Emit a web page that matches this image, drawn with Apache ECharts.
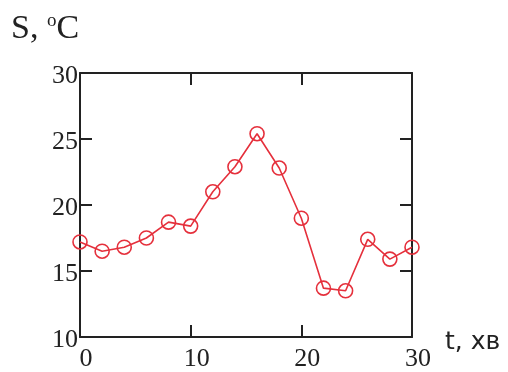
<!DOCTYPE html>
<html>
<head>
<meta charset="utf-8">
<script src="https://cdn.jsdelivr.net/npm/echarts@6/dist/echarts.min.js"></script>
<style>
  html, body { margin: 0; padding: 0; background: #fff; }
  #chart { width: 508px; height: 372px; }
</style>
</head>
<body>
<div id="chart"></div>
<script>
// time, min
var timeData = [0, 2, 4, 6, 8, 10, 12, 14, 16, 18, 20, 22, 24, 26, 28, 30]
// temperature S, degC
var tempData = [17.2, 16.5, 16.8, 17.5, 18.7, 18.4, 21.0, 22.9, 25.4, 22.8, 19.0, 13.7, 13.5, 17.4, 15.9, 16.8]
var xTicks = [0, 10, 20, 30]
var yTicks = [10, 15, 20, 25, 30]

var chart = echarts.init(document.getElementById('chart'))

var serif = '"Liberation Serif", "DejaVu Serif", serif'
var ink = '#222'
var red = '#e5303c'

var points = timeData.map(function (t, i) { return [t, tempData[i]] })

var baseX = {
  type: 'value',
  min: xTicks[0],
  max: xTicks[xTicks.length - 1],
  interval: 10,
  splitLine: { show: false },
  axisLine: { show: true, onZero: false, lineStyle: { color: ink, width: 2 } },
  axisTick: { show: true, inside: true, length: 12, lineStyle: { color: ink, width: 2 } }
}
var baseY = {
  type: 'value',
  min: yTicks[0],
  max: yTicks[yTicks.length - 1],
  interval: 5,
  splitLine: { show: false },
  axisLine: { show: true, onZero: false, lineStyle: { color: ink, width: 2 } },
  axisTick: { show: true, inside: true, length: 12, lineStyle: { color: ink, width: 2 } }
}

chart.setOption({
  animation: false,
  backgroundColor: '#fff',
  grid: { left: 80, right: 96, top: 73, bottom: 34 },
  graphic: [
    {
      type: 'text',
      left: 11,
      top: 12,
      style: {
        text: '{a|S, }{b|o}{a|C}',
        rich: {
          a: { fontFamily: serif, fontSize: 34, fill: ink },
          b: { fontFamily: serif, fontSize: 19, fill: ink, verticalAlign: 'top', padding: [0, 0, 12, 0] }
        }
      }
    },
    {
      type: 'text',
      left: 445,
      top: 330,
      style: {
        text: 't, хв',
        fontFamily: '"DejaVu Sans", sans-serif',
        fontSize: 25,
        fill: ink
      }
    }
  ],
  xAxis: [
    Object.assign({}, baseX, {
      position: 'bottom',
      axisLabel: {
        fontFamily: serif, fontSize: 26, color: ink, margin: 9,
        padding: [0, 0, 0, 12]
      }
    }),
    Object.assign({}, baseX, { position: 'top', axisLabel: { show: false } })
  ],
  yAxis: [
    Object.assign({}, baseY, {
      position: 'left',
      axisLabel: {
        fontFamily: serif, fontSize: 26, color: ink, margin: 2,
        verticalAlign: 'top', padding: [-10, 0, 0, 0]
      }
    }),
    Object.assign({}, baseY, { position: 'right', axisLabel: { show: false } })
  ],
  series: [
    {
      type: 'line',
      data: points,
      symbol: 'circle',
      symbolSize: 14,
      lineStyle: { color: red, width: 1.6 },
      itemStyle: { color: 'rgba(255,255,255,0)', borderColor: red, borderWidth: 1.6 }
    }
  ]
})
</script>
</body>
</html>
